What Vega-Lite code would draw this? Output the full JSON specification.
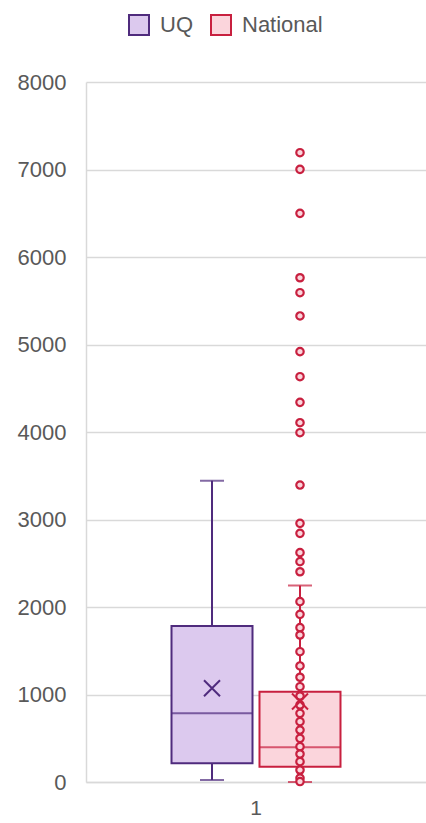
{
  "$schema": "https://vega.github.io/schema/vega-lite/v6.json",
  "width": 340,
  "height": 700,
  "autosize": {"type": "none"},
  "padding": {"left": 86, "top": 82, "right": 0, "bottom": 41},
  "background": "white",
  "config": {
    "view": {"stroke": null},
    "font": "Liberation Sans"
  },
  "datasets": {
    "boxes": [
      {"cat": "1", "series": "UQ", "lower": 23, "q1": 214, "median": 785, "q3": 1783, "upper": 3443, "mean": 1071},
      {"cat": "1", "series": "National", "lower": 0, "q1": 175, "median": 396, "q3": 1032, "upper": 2245, "mean": 920}
    ],
    "points": [
      {"cat": "1", "series": "National", "value": 7192},
      {"cat": "1", "series": "National", "value": 7002},
      {"cat": "1", "series": "National", "value": 6499},
      {"cat": "1", "series": "National", "value": 5763},
      {"cat": "1", "series": "National", "value": 5592},
      {"cat": "1", "series": "National", "value": 5326},
      {"cat": "1", "series": "National", "value": 4918},
      {"cat": "1", "series": "National", "value": 4632},
      {"cat": "1", "series": "National", "value": 4339},
      {"cat": "1", "series": "National", "value": 4106},
      {"cat": "1", "series": "National", "value": 3992},
      {"cat": "1", "series": "National", "value": 3394},
      {"cat": "1", "series": "National", "value": 2956},
      {"cat": "1", "series": "National", "value": 2842},
      {"cat": "1", "series": "National", "value": 2621},
      {"cat": "1", "series": "National", "value": 2518},
      {"cat": "1", "series": "National", "value": 2403},
      {"cat": "1", "series": "National", "value": 2061},
      {"cat": "1", "series": "National", "value": 1916},
      {"cat": "1", "series": "National", "value": 1764},
      {"cat": "1", "series": "National", "value": 1680},
      {"cat": "1", "series": "National", "value": 1489},
      {"cat": "1", "series": "National", "value": 1326},
      {"cat": "1", "series": "National", "value": 1197},
      {"cat": "1", "series": "National", "value": 1089},
      {"cat": "1", "series": "National", "value": 983},
      {"cat": "1", "series": "National", "value": 880},
      {"cat": "1", "series": "National", "value": 785},
      {"cat": "1", "series": "National", "value": 690},
      {"cat": "1", "series": "National", "value": 594},
      {"cat": "1", "series": "National", "value": 499},
      {"cat": "1", "series": "National", "value": 404},
      {"cat": "1", "series": "National", "value": 320},
      {"cat": "1", "series": "National", "value": 232},
      {"cat": "1", "series": "National", "value": 137},
      {"cat": "1", "series": "National", "value": 45},
      {"cat": "1", "series": "National", "value": 5}
    ]
  },
  "encoding": {
    "x": {
      "field": "cat", "type": "nominal",
      "scale": {"domain": ["1"], "paddingInner": 0, "paddingOuter": 0},
      "axis": {"title": null, "labelAngle": 0, "ticks": false, "domain": true, "domainColor": "#d9d9d9", "domainWidth": 1.5, "labelFontSize": 21, "labelColor": "#595959", "labelPadding": 15}
    },
    "xOffset": {
      "field": "series", "type": "nominal",
      "scale": {"domain": ["UQ", "National"], "paddingInner": 0, "paddingOuter": 0.932}
    }
  },
  "layer": [
    {
      "data": {"name": "boxes"},
      "mark": {"type": "rule", "strokeWidth": 2},
      "encoding": {
        "y": {
          "field": "lower", "type": "quantitative",
          "scale": {"domain": [0, 8000], "nice": false},
          "axis": {"title": null, "values": [0, 1000, 2000, 3000, 4000, 5000, 6000, 7000, 8000], "format": "d", "ticks": false, "domain": true, "domainColor": "#d9d9d9", "domainWidth": 1.5, "grid": true, "gridColor": "#d9d9d9", "gridWidth": 1.5, "labelFontSize": 22, "labelColor": "#595959", "labelPadding": 20}
        },
        "y2": {"field": "upper"},
        "stroke": {
          "field": "series", "type": "nominal",
          "scale": {"domain": ["UQ", "National"], "range": ["#4f2b7d", "#c8203f"]},
          "legend": {"title": null, "orient": "none", "direction": "horizontal", "legendX": 42, "legendY": -68, "symbolType": "square", "symbolSize": 400, "symbolStrokeWidth": 2, "labelFontSize": 22, "labelColor": "#595959", "labelOffset": 10, "columnPadding": 14}
        }
      }
    },
    {
      "data": {"name": "boxes"},
      "mark": {"type": "bar", "size": 81, "strokeWidth": 2},
      "encoding": {
        "y": {"field": "q1", "type": "quantitative"},
        "y2": {"field": "q3"},
        "fill": {
          "field": "series", "type": "nominal",
          "scale": {"domain": ["UQ", "National"], "range": ["#dcc9ee", "#fbd5dc"]},
          "legend": {"title": null, "orient": "none", "direction": "horizontal", "legendX": 42, "legendY": -68, "symbolType": "square", "symbolSize": 400, "symbolStrokeWidth": 2, "labelFontSize": 22, "labelColor": "#595959", "labelOffset": 10, "columnPadding": 14}
        },
        "stroke": {"field": "series", "type": "nominal"}
      }
    },
    {
      "data": {"name": "boxes"},
      "mark": {"type": "tick", "size": 81, "thickness": 0, "filled": false, "strokeWidth": 2, "orient": "horizontal"},
      "encoding": {
        "y": {"field": "median", "type": "quantitative"},
        "stroke": {"field": "series", "type": "nominal"}
      }
    },
    {
      "data": {"name": "boxes"},
      "mark": {"type": "tick", "size": 24, "thickness": 0, "filled": false, "strokeWidth": 2, "orient": "horizontal"},
      "encoding": {
        "y": {"field": "upper", "type": "quantitative"},
        "stroke": {"field": "series", "type": "nominal"}
      }
    },
    {
      "data": {"name": "boxes"},
      "mark": {"type": "tick", "size": 24, "thickness": 0, "filled": false, "strokeWidth": 2, "orient": "horizontal"},
      "encoding": {
        "y": {"field": "lower", "type": "quantitative"},
        "stroke": {"field": "series", "type": "nominal"}
      }
    },
    {
      "data": {"name": "points"},
      "mark": {"type": "point", "shape": "circle", "filled": true, "size": 55, "strokeWidth": 2.2, "opacity": 1},
      "encoding": {
        "y": {"field": "value", "type": "quantitative"},
        "fill": {"field": "series", "type": "nominal"},
        "stroke": {"field": "series", "type": "nominal"}
      }
    },
    {
      "data": {"name": "boxes"},
      "mark": {"type": "point", "shape": "M-1,-1L1,1M-1,1L1,-1", "filled": false, "size": 256, "strokeWidth": 2, "opacity": 1},
      "encoding": {
        "y": {"field": "mean", "type": "quantitative"},
        "stroke": {"field": "series", "type": "nominal"}
      }
    }
  ]
}
